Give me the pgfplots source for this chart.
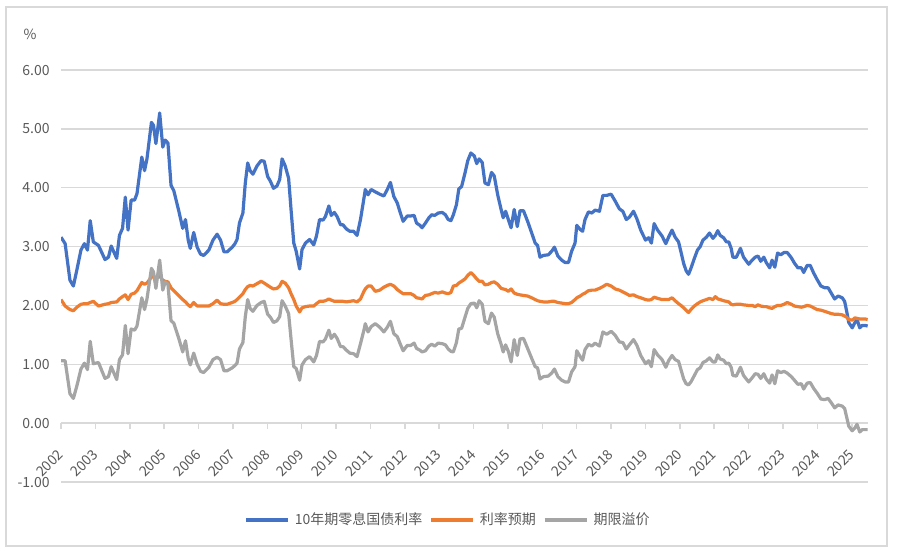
\documentclass[border=0pt]{standalone}
\usepackage{pgfplots}
\pgfplotsset{compat=1.18}
\usepackage{pgfplotstable}
\usepackage{fontspec}
\setmainfont{Noto Sans CJK SC}
\definecolor{cblue}{HTML}{4472C4}
\definecolor{corange}{HTML}{ED7D31}
\definecolor{cgrey}{HTML}{A5A5A5}
\definecolor{gridc}{HTML}{D9D9D9}
\definecolor{txt}{HTML}{595959}

\pgfplotstableread{
x b o g
2002.00 3.16 2.10 1.06
2002.12 3.05 1.99 1.06
2002.26 2.43 1.93 0.50
2002.36 2.33 1.91 0.42
2002.46 2.60 1.97 0.63
2002.58 2.94 2.02 0.92
2002.68 3.05 2.03 1.02
2002.77 2.94 2.03 0.91
2002.85 3.44 2.05 1.39
2002.94 3.08 2.07 1.01
2003.09 3.02 1.99 1.03
2003.28 2.78 2.02 0.76
2003.38 2.82 2.03 0.79
2003.46 3.01 2.05 0.96
2003.62 2.80 2.06 0.74
2003.70 3.19 2.11 1.08
2003.79 3.31 2.15 1.16
2003.87 3.84 2.18 1.66
2003.95 3.28 2.10 1.18
2004.04 3.79 2.19 1.60
2004.14 3.79 2.21 1.58
2004.21 3.90 2.25 1.65
2004.35 4.52 2.39 2.13
2004.43 4.29 2.36 1.93
2004.50 4.49 2.38 2.11
2004.63 5.11 2.48 2.63
2004.69 5.06 2.49 2.57
2004.76 4.75 2.46 2.29
2004.87 5.27 2.50 2.77
2004.96 4.69 2.43 2.26
2005.03 4.81 2.41 2.40
2005.11 4.76 2.40 2.36
2005.20 4.04 2.30 1.74
2005.28 3.95 2.25 1.70
2005.42 3.62 2.17 1.45
2005.54 3.31 2.10 1.21
2005.62 3.46 2.06 1.40
2005.70 3.11 2.01 1.10
2005.76 2.97 1.98 0.99
2005.86 3.24 2.05 1.19
2005.96 2.99 1.99 1.00
2006.06 2.87 1.99 0.88
2006.15 2.85 1.99 0.86
2006.30 2.94 1.99 0.95
2006.42 3.11 2.03 1.08
2006.54 3.21 2.09 1.12
2006.64 3.11 2.03 1.08
2006.74 2.91 2.02 0.89
2006.83 2.91 2.02 0.89
2006.98 2.99 2.05 0.94
2007.06 3.05 2.07 0.98
2007.12 3.12 2.10 1.02
2007.19 3.40 2.14 1.26
2007.29 3.57 2.20 1.37
2007.36 4.08 2.27 1.81
2007.43 4.42 2.32 2.10
2007.50 4.29 2.34 1.95
2007.58 4.23 2.33 1.90
2007.70 4.37 2.37 2.00
2007.82 4.46 2.41 2.05
2007.91 4.45 2.38 2.07
2008.01 4.19 2.34 1.85
2008.09 4.11 2.31 1.80
2008.18 3.99 2.28 1.71
2008.28 4.03 2.29 1.74
2008.36 4.14 2.33 1.81
2008.43 4.49 2.41 2.08
2008.52 4.37 2.38 1.99
2008.62 4.16 2.30 1.86
2008.69 3.63 2.20 1.43
2008.77 3.06 2.10 0.96
2008.84 2.92 1.99 0.93
2008.94 2.62 1.89 0.73
2009.01 2.95 1.96 0.99
2009.11 3.06 1.98 1.08
2009.23 3.12 1.99 1.13
2009.35 3.03 1.99 1.04
2009.43 3.18 2.03 1.15
2009.52 3.46 2.07 1.39
2009.62 3.45 2.07 1.38
2009.69 3.51 2.08 1.43
2009.79 3.69 2.11 1.58
2009.86 3.53 2.09 1.44
2009.95 3.58 2.07 1.51
2010.03 3.51 2.07 1.44
2010.13 3.37 2.07 1.30
2010.20 3.37 2.07 1.30
2010.30 3.30 2.06 1.24
2010.40 3.26 2.07 1.19
2010.51 3.26 2.08 1.18
2010.61 3.19 2.06 1.13
2010.71 3.46 2.11 1.35
2010.81 3.82 2.24 1.58
2010.85 3.97 2.28 1.69
2010.93 3.88 2.33 1.55
2011.02 3.97 2.33 1.64
2011.14 3.93 2.24 1.69
2011.27 3.89 2.26 1.63
2011.39 3.86 2.31 1.55
2011.49 3.97 2.34 1.63
2011.58 4.09 2.36 1.73
2011.68 3.85 2.33 1.52
2011.78 3.74 2.27 1.47
2011.87 3.57 2.23 1.34
2011.95 3.43 2.20 1.23
2012.07 3.52 2.20 1.32
2012.17 3.52 2.20 1.32
2012.27 3.53 2.17 1.36
2012.34 3.40 2.13 1.27
2012.44 3.36 2.12 1.24
2012.50 3.32 2.11 1.21
2012.60 3.40 2.17 1.23
2012.70 3.49 2.18 1.31
2012.78 3.54 2.20 1.34
2012.87 3.53 2.22 1.31
2012.97 3.57 2.21 1.36
2013.09 3.58 2.23 1.35
2013.18 3.54 2.21 1.33
2013.26 3.46 2.20 1.26
2013.34 3.44 2.22 1.22
2013.41 3.54 2.33 1.21
2013.50 3.71 2.34 1.37
2013.57 3.98 2.38 1.60
2013.65 4.02 2.41 1.61
2013.75 4.25 2.45 1.80
2013.83 4.46 2.51 1.95
2013.92 4.59 2.56 2.03
2014.02 4.54 2.50 2.04
2014.09 4.41 2.45 1.96
2014.16 4.49 2.41 2.08
2014.25 4.43 2.41 2.02
2014.33 4.08 2.35 1.73
2014.43 4.05 2.36 1.69
2014.52 4.26 2.39 1.87
2014.60 4.20 2.40 1.80
2014.70 3.88 2.36 1.52
2014.80 3.63 2.29 1.34
2014.86 3.49 2.28 1.21
2014.93 3.60 2.27 1.33
2015.01 3.46 2.24 1.22
2015.09 3.32 2.28 1.04
2015.18 3.63 2.21 1.42
2015.27 3.34 2.19 1.15
2015.35 3.61 2.18 1.43
2015.45 3.61 2.17 1.44
2015.57 3.43 2.16 1.27
2015.69 3.23 2.13 1.10
2015.79 3.06 2.10 0.96
2015.86 3.02 2.08 0.94
2015.93 2.82 2.07 0.75
2016.03 2.85 2.06 0.79
2016.17 2.86 2.06 0.80
2016.27 2.92 2.07 0.85
2016.35 2.99 2.07 0.92
2016.45 2.84 2.05 0.79
2016.56 2.77 2.04 0.73
2016.66 2.73 2.03 0.70
2016.76 2.73 2.03 0.70
2016.85 2.92 2.05 0.87
2016.95 3.06 2.10 0.96
2017.00 3.36 2.13 1.23
2017.10 3.29 2.16 1.13
2017.17 3.26 2.19 1.07
2017.24 3.46 2.21 1.25
2017.34 3.59 2.25 1.34
2017.44 3.57 2.26 1.31
2017.53 3.62 2.26 1.36
2017.66 3.60 2.29 1.31
2017.76 3.87 2.32 1.55
2017.87 3.87 2.36 1.51
2018.00 3.89 2.33 1.56
2018.12 3.77 2.28 1.49
2018.24 3.64 2.26 1.38
2018.34 3.60 2.23 1.37
2018.44 3.46 2.20 1.26
2018.53 3.50 2.17 1.33
2018.65 3.60 2.18 1.42
2018.75 3.47 2.15 1.32
2018.86 3.28 2.13 1.15
2019.00 3.11 2.10 1.01
2019.09 3.15 2.09 1.06
2019.17 3.06 2.10 0.96
2019.25 3.39 2.14 1.25
2019.35 3.28 2.12 1.16
2019.48 3.18 2.10 1.08
2019.59 3.05 2.10 0.95
2019.67 3.16 2.10 1.06
2019.77 3.28 2.13 1.15
2019.86 3.16 2.08 1.08
2019.96 3.08 2.03 1.05
2020.03 2.91 2.00 0.91
2020.11 2.71 1.96 0.75
2020.18 2.59 1.92 0.67
2020.25 2.53 1.88 0.65
2020.32 2.63 1.93 0.70
2020.42 2.80 1.99 0.81
2020.51 2.94 2.03 0.91
2020.59 3.00 2.06 0.94
2020.67 3.11 2.08 1.03
2020.77 3.16 2.10 1.06
2020.86 3.23 2.12 1.11
2020.96 3.14 2.10 1.04
2021.03 3.19 2.15 1.04
2021.10 3.27 2.11 1.16
2021.17 3.19 2.10 1.09
2021.27 3.15 2.08 1.07
2021.35 3.08 2.07 1.01
2021.42 3.08 2.06 1.02
2021.49 2.97 2.02 0.95
2021.54 2.82 2.01 0.81
2021.64 2.82 2.02 0.80
2021.76 2.97 2.02 0.95
2021.85 2.82 2.01 0.81
2022.00 2.70 2.00 0.70
2022.10 2.77 2.00 0.77
2022.19 2.82 1.98 0.84
2022.27 2.84 2.01 0.83
2022.35 2.75 1.99 0.76
2022.44 2.82 1.98 0.84
2022.51 2.73 1.98 0.75
2022.61 2.64 1.96 0.68
2022.68 2.77 1.95 0.82
2022.76 2.65 1.98 0.67
2022.84 2.89 2.00 0.89
2022.93 2.86 2.00 0.86
2023.03 2.90 2.02 0.88
2023.12 2.90 2.05 0.85
2023.24 2.81 2.02 0.79
2023.33 2.72 1.99 0.73
2023.43 2.64 1.98 0.66
2023.53 2.64 1.97 0.67
2023.60 2.56 1.98 0.58
2023.70 2.68 2.00 0.68
2023.79 2.68 1.99 0.69
2023.89 2.55 1.96 0.59
2023.99 2.44 1.93 0.51
2024.10 2.33 1.92 0.41
2024.21 2.30 1.90 0.40
2024.31 2.30 1.88 0.42
2024.41 2.20 1.86 0.34
2024.50 2.11 1.85 0.26
2024.60 2.16 1.85 0.31
2024.72 2.13 1.84 0.29
2024.79 2.07 1.82 0.25
2024.85 1.90 1.80 0.10
2024.91 1.71 1.76 -0.05
2025.01 1.62 1.75 -0.13
2025.09 1.71 1.79 -0.08
2025.15 1.76 1.78 -0.02
2025.23 1.62 1.77 -0.15
2025.30 1.66 1.77 -0.11
2025.39 1.66 1.77 -0.11
2025.46 1.65 1.76 -0.11
}\rates

\begin{document}
\begin{tikzpicture}
\useasboundingbox (-30.5pt,-36pt) rectangle (418.5pt,241pt);
\draw[gridc, line width=0.6pt] (-27.5pt,-32pt) rectangle (413pt,237.5pt);
\node[text=txt, font=\fontsize{7}{8}\selectfont] at (-15.5pt,224pt) {\%};
\begin{axis}[
  at={(0,0)}, anchor=south west,
  width=403.5pt, height=206pt, scale only axis,
  xmin=2002, xmax=2025.47, ymin=-1, ymax=6,
  axis x line=middle, axis y line=left,
  axis line style={-},
  x axis line style={draw=gridc, line width=0.75pt},
  y axis line style={draw=none},
  hide obscured x ticks=false, hide obscured y ticks=false,
  ytick={-1,0,...,6},
  yticklabels={-1.00,0.00,1.00,2.00,3.00,4.00,5.00,6.00},
  xtick={2002,...,2025},
  xticklabels={2002,2003,2004,2005,2006,2007,2008,2009,2010,2011,2012,2013,2014,2015,2016,2017,2018,2019,2020,2021,2022,2023,2024,2025},
  ymajorgrids, grid style={draw=gridc, line width=0.75pt},
  ytick style={draw=none},
  xtick style={draw=gridc, line width=0.75pt},
  tick align=outside, major tick length=3pt,
  ticklabel style={font=\fontsize{7}{8}\selectfont, text=txt},
  xticklabel style={yshift=-3pt, rotate=45, anchor=east, inner sep=0pt},
  xticklabel shift=8.5pt,
  yticklabel style={anchor=east, inner sep=0pt},
  yticklabel shift=2.5pt,
  legend style={at={(0.479,-0.092)}, anchor=center, draw=none, fill=none,
    legend columns=3, font=\fontsize{7}{8}\selectfont, text=txt,
    nodes={inner sep=0.6pt},
    /tikz/every even column/.append style={column sep=3pt},
    /tikz/every odd column/.append style={column sep=2pt}},
  legend image code/.code={\draw[#1] (0pt,0pt) -- (21pt,0pt);},
  line join=round,
]
\addplot[cblue, line width=1.6pt] table[x=x, y=b] {\rates};
\addlegendentry{10年期零息国债利率}
\addplot[corange, line width=1.6pt] table[x=x, y=o] {\rates};
\addlegendentry{利率预期}
\addplot[cgrey, line width=1.6pt] table[x=x, y=g] {\rates};
\addlegendentry{期限溢价}
\end{axis}
\end{tikzpicture}
\end{document}
